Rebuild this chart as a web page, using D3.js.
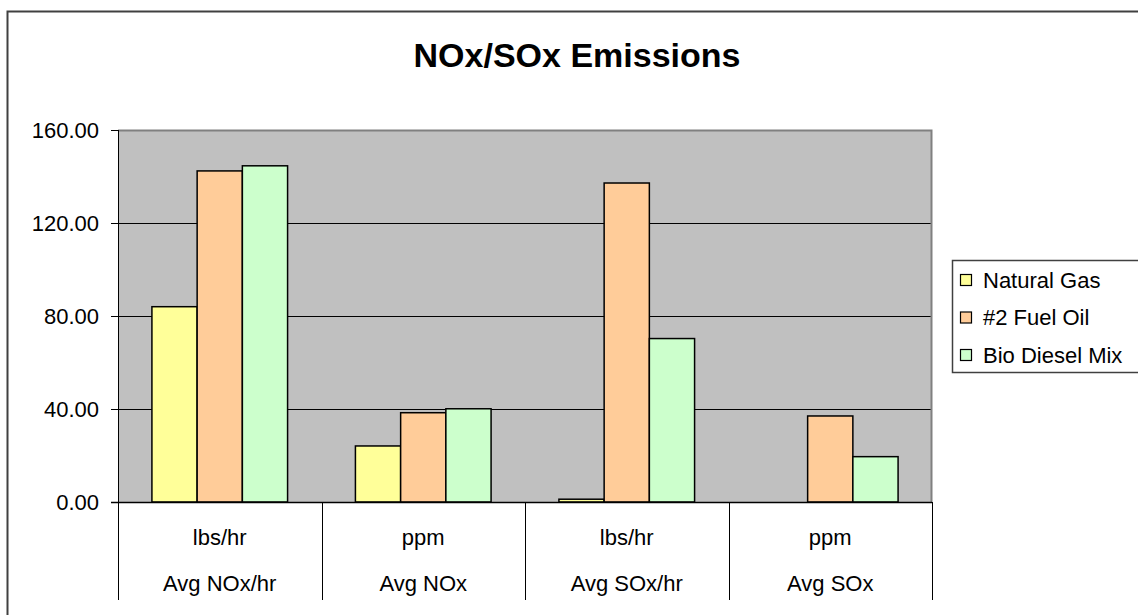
<!DOCTYPE html>
<html>
<head>
<meta charset="utf-8">
<script src="https://cdn.jsdelivr.net/npm/d3@7"></script>
<style>
  html, body { margin: 0; padding: 0; background: #fff; }
  svg { display: block; }
  text { font-family: Arial, "Liberation Sans", sans-serif; }
</style>
</head>
<body>
<svg id="chart" width="1138" height="615"></svg>
<script>
const title = "NOx/SOx Emissions";
const units = ["lbs/hr", "ppm", "lbs/hr", "ppm"];
const measures = ["Avg NOx/hr", "Avg NOx", "Avg SOx/hr", "Avg SOx"];
const seriesNames = ["Natural Gas", "#2 Fuel Oil", "Bio Diesel Mix"];
const naturalGas = [84.0, 24.1, 1.2, 0];
const fuelOil = [142.4, 38.4, 137.2, 37.0];
const bioDiesel = [144.6, 40.1, 70.3, 19.5];
const yTicks = [0, 40, 80, 120, 160];
const colors = ["#FFFF99", "#FFCC99", "#CCFFCC"];

const seriesValues = [naturalGas, fuelOil, bioDiesel];
const svg = d3.select("#chart");
const FS = 22;

const plot = { left: 118, right: 932, top: 130, bottom: 502 };
const catBottom = 600;

// outer chart border (extends past right/bottom edges)
svg.append("rect")
  .attr("x", 7.5).attr("y", 11.5)
  .attr("width", 1200).attr("height", 700)
  .attr("fill", "#fff").attr("stroke", "#404040").attr("stroke-width", 2);

// title
svg.append("text")
  .attr("x", 577).attr("y", 55)
  .attr("text-anchor", "middle").attr("dominant-baseline", "central")
  .attr("font-size", 34).attr("font-weight", "bold")
  .text(title);

const x0 = d3.scaleBand().domain(measures.map((d, i) => i)).range([plot.left, plot.right]).paddingInner(0).paddingOuter(0);
const x1 = d3.scaleBand().domain(seriesNames).range([0, x0.bandwidth()]).paddingInner(0).paddingOuter(0.75);
const y = d3.scaleLinear().domain([0, 160]).range([plot.bottom, plot.top]);

// plot background
svg.append("rect")
  .attr("x", plot.left).attr("y", plot.top)
  .attr("width", plot.right - plot.left).attr("height", plot.bottom - plot.top)
  .attr("fill", "#C0C0C0");

// gridlines
svg.append("g").selectAll("line")
  .data(yTicks.filter(t => t > 0 && t < 160))
  .join("line")
  .attr("x1", plot.left).attr("x2", plot.right)
  .attr("y1", d => Math.round(y(d)) + 0.5).attr("y2", d => Math.round(y(d)) + 0.5)
  .attr("stroke", "#000").attr("stroke-width", 1);

// plot border top / right
svg.append("path")
  .attr("d", `M${plot.left},${plot.top + 0.5}H${plot.right - 0.5}V${plot.bottom}`)
  .attr("fill", "none").attr("stroke", "#808080").attr("stroke-width", 2);

// bars
const barData = [];
seriesValues.forEach((vals, si) => {
  vals.forEach((v, ci) => {
    if (v > 0) barData.push({ s: seriesNames[si], si, ci, v });
  });
});
svg.append("g").selectAll("rect")
  .data(barData)
  .join("rect")
  .attr("x", d => x0(d.ci) + x1(d.s))
  .attr("y", d => y(d.v))
  .attr("width", x1.bandwidth())
  .attr("height", d => y(0) - y(d.v))
  .attr("fill", d => colors[d.si])
  .attr("stroke", "#000").attr("stroke-width", 1.5);

// y axis
const yAxis = d3.axisLeft(y).tickValues(yTicks).tickFormat(d3.format(".2f")).tickSize(7).tickPadding(12);
const yg = svg.append("g").attr("transform", `translate(${plot.left},0)`).call(yAxis);
yg.select(".domain").remove();
yg.selectAll(".tick line").attr("stroke", "#000");
yg.selectAll(".tick text").attr("font-size", FS).attr("fill", "#000")
  .attr("font-family", "Arial, 'Liberation Sans', sans-serif");

// y axis line extended through category area
svg.append("line")
  .attr("x1", plot.left + 0.5).attr("x2", plot.left + 0.5)
  .attr("y1", plot.top).attr("y2", catBottom)
  .attr("stroke", "#000").attr("stroke-width", 1);

// x axis baseline
svg.append("line")
  .attr("x1", plot.left - 7).attr("x2", plot.right)
  .attr("y1", plot.bottom + 0.5).attr("y2", plot.bottom + 0.5)
  .attr("stroke", "#000").attr("stroke-width", 1.5);

// category separators
const bounds = measures.map((d, i) => x0(i)).concat([plot.right]);
svg.append("g").selectAll("line")
  .data(bounds.slice(1))
  .join("line")
  .attr("x1", d => Math.round(d) + 0.5).attr("x2", d => Math.round(d) + 0.5)
  .attr("y1", plot.bottom).attr("y2", catBottom)
  .attr("stroke", "#000").attr("stroke-width", 1);

// category labels (two levels)
const cg = svg.append("g");
cg.selectAll("text.unit")
  .data(units)
  .join("text").attr("class", "unit")
  .attr("x", (d, i) => x0(i) + x0.bandwidth() / 2)
  .attr("y", 537)
  .attr("text-anchor", "middle").attr("dominant-baseline", "central")
  .attr("font-size", FS)
  .text(d => d);
cg.selectAll("text.measure")
  .data(measures)
  .join("text").attr("class", "measure")
  .attr("x", (d, i) => x0(i) + x0.bandwidth() / 2)
  .attr("y", 583)
  .attr("text-anchor", "middle").attr("dominant-baseline", "central")
  .attr("font-size", FS)
  .text(d => d);

// legend
const lg = svg.append("g");
lg.append("rect")
  .attr("x", 952.5).attr("y", 260.5)
  .attr("width", 300).attr("height", 112)
  .attr("fill", "#fff").attr("stroke", "#404040").attr("stroke-width", 1.5);
const legendY = d3.scalePoint().domain(seriesNames).range([280, 355]);
const items = lg.selectAll("g.item").data(seriesNames).join("g").attr("class", "item")
  .attr("transform", d => `translate(0,${legendY(d)})`);
items.append("rect")
  .attr("x", 960.5).attr("y", -5.5).attr("width", 11).attr("height", 11)
  .attr("fill", (d, i) => colors[i]).attr("stroke", "#000").attr("stroke-width", 1.2);
items.append("text")
  .attr("x", 983).attr("y", 0)
  .attr("dominant-baseline", "central")
  .attr("font-size", FS)
  .text(d => d);
</script>
</body>
</html>
